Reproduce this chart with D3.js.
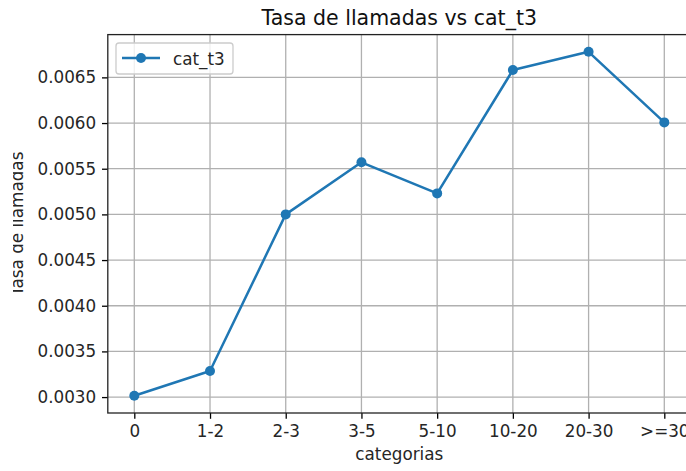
<!DOCTYPE html>
<html>
<head>
<meta charset="utf-8">
<script src="https://cdn.jsdelivr.net/npm/d3@7"></script>
<style>
html,body{margin:0;padding:0;background:#fff;}
svg{display:block;font-family:"DejaVu Sans",sans-serif;}
</style>
</head>
<body>
<svg id="chart" width="686" height="471"></svg>
<script>
const categories = ["0","1-2","2-3","3-5","5-10","10-20","20-30",">=30"];
const values = [0.003014, 0.003285, 0.005000, 0.005570, 0.005230, 0.006580, 0.006780, 0.006007];
const yTicks = [0.0030,0.0035,0.0040,0.0045,0.0050,0.0055,0.0060,0.0065];
const seriesName = "cat_t3";
const titleText = "Tasa de llamadas vs cat_t3";
const xLabel = "categorias";
const yLabel = "Tasa de llamadas";

const svg = d3.select("#chart");
const L = 107.8, R = 690.8, T = 34.6, B = 413;
const color = "#1f77b4";

const x = d3.scalePoint().domain(categories).range([L, R]).padding(0.35);
const ymin = d3.min(values), ymax = d3.max(values), pad = (ymax - ymin) * 0.05;
const y = d3.scaleLinear().domain([ymin - pad, ymax + pad]).range([B, T]);

// grid
const g = svg.append("g");
g.selectAll(".gx").data(categories).enter().append("line")
  .attr("x1", d => x(d)).attr("x2", d => x(d)).attr("y1", T).attr("y2", B)
  .attr("stroke", "#b0b0b0").attr("stroke-width", 1.3);
g.selectAll(".gy").data(yTicks).enter().append("line")
  .attr("x1", L).attr("x2", R).attr("y1", d => y(d)).attr("y2", d => y(d))
  .attr("stroke", "#b0b0b0").attr("stroke-width", 1.3);

// axes
const fs = 16.8;
const xAxis = d3.axisBottom(x).tickSize(5.8).tickPadding(5.8);
const yAxis = d3.axisLeft(y).tickValues(yTicks).tickFormat(d3.format(".4f")).tickSize(5.8).tickPadding(5.8);
const gx = svg.append("g").attr("transform", `translate(0,${B})`).call(xAxis);
const gy = svg.append("g").attr("transform", `translate(${L},0)`).call(yAxis);
[gx, gy].forEach(a => {
  a.select(".domain").remove();
  a.selectAll(".tick line").attr("stroke", "#000").attr("stroke-width", 1.3);
  a.selectAll(".tick text").attr("fill", "#262626").style("font-size", fs + "px").style("font-family", "DejaVu Sans");
});

// spines
svg.append("rect").attr("x", L).attr("y", T).attr("width", R - L).attr("height", B - T)
  .attr("fill", "none").attr("stroke", "#222").attr("stroke-width", 1.3);

// line + markers
const line = d3.line().x((d, i) => x(categories[i])).y(d => y(d));
svg.append("path").datum(values).attr("d", line).attr("fill", "none")
  .attr("stroke", color).attr("stroke-width", 2.5).attr("stroke-linejoin", "round");
svg.selectAll(".pt").data(values).enter().append("circle")
  .attr("cx", (d, i) => x(categories[i])).attr("cy", d => y(d)).attr("r", 5).attr("fill", color);

// title
svg.append("text").attr("x", (L + R) / 2).attr("y", 25).attr("text-anchor", "middle")
  .style("font-size", "20.5px").attr("fill", "#111").text(titleText);
// x label
svg.append("text").attr("x", (L + R) / 2).attr("y", 460).attr("text-anchor", "middle")
  .style("font-size", fs + "px").attr("fill", "#262626").text(xLabel);
// y label (clipped at left like reference)
svg.append("clipPath").attr("id", "ylclip").append("rect").attr("x", 13).attr("y", 0).attr("width", 100).attr("height", 471);
svg.append("g").attr("clip-path", "url(#ylclip)").append("text")
  .attr("transform", `translate(22.5,${(T + B) / 2}) rotate(-90)`).attr("text-anchor", "middle")
  .style("font-size", fs + "px").attr("fill", "#262626").text(yLabel);

// legend
const lg = svg.append("g");
lg.append("rect").attr("x", 116).attr("y", 43).attr("width", 117).attr("height", 31).attr("rx", 3)
  .attr("fill", "#fff").attr("fill-opacity", 0.8).attr("stroke", "#ccc").attr("stroke-width", 1.3);
lg.append("line").attr("x1", 122).attr("x2", 160).attr("y1", 58).attr("y2", 58)
  .attr("stroke", color).attr("stroke-width", 2.5);
lg.append("circle").attr("cx", 141).attr("cy", 58).attr("r", 5).attr("fill", color);
lg.append("text").attr("x", 173).attr("y", 64.5).style("font-size", fs + "px").attr("fill", "#262626").text(seriesName);
</script>
</body>
</html>
